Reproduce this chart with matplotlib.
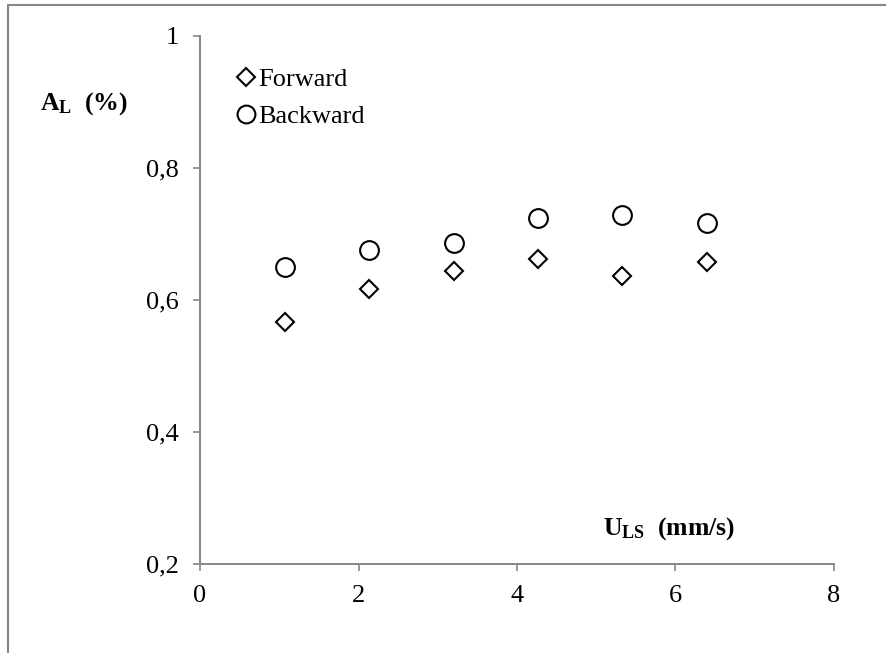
import matplotlib.pyplot as plt
from matplotlib.patches import Rectangle

plt.rcParams['font.family'] = ['Liberation Serif', 'DejaVu Serif']
plt.rcParams['mathtext.fontset'] = 'custom'
plt.rcParams['mathtext.rm'] = 'Liberation Serif'
plt.rcParams['mathtext.bf'] = 'Liberation Serif:bold'

# U_LS (mm/s) and A_L for the two directions
u_ls = [1.07, 2.13, 3.20, 4.27, 5.33, 6.40]
forward = [0.566, 0.617, 0.644, 0.662, 0.636, 0.657]
backward = [0.650, 0.676, 0.686, 0.724, 0.729, 0.716]

xticks = [0, 2, 4, 6, 8]
yticks = [0.2, 0.4, 0.6, 0.8, 1.0]
ytick_labels = ['0,2', '0,4', '0,6', '0,8', '1']

axis_grey = '#868686'

fig = plt.figure(figsize=(8.87, 6.53), dpi=100)
ax = fig.add_axes([0.2255, 0.1363, 0.7147, 0.8086])

ax.plot(u_ls, forward, linestyle='none', marker='D', markersize=9.5,
        markerfacecolor='white', markeredgecolor='black', markeredgewidth=1.5,
        label='Forward')
ax.plot(u_ls, backward, linestyle='none', marker='o', markersize=13.5,
        markerfacecolor='white', markeredgecolor='black', markeredgewidth=1.5,
        label='Backward')

ax.set_xlim(0, 8)
ax.set_ylim(0.2, 1.0)
ax.set_xticks(xticks)
ax.set_xticklabels([str(t) for t in xticks])
ax.set_yticks(yticks)
ax.set_yticklabels(ytick_labels)
ax.tick_params(direction='out', length=5, width=1.2, color=axis_grey,
               labelsize=19, pad=10)

for side in ['top', 'right']:
    ax.spines[side].set_visible(False)
for side in ['left', 'bottom']:
    ax.spines[side].set_color(axis_grey)
    ax.spines[side].set_linewidth(1.4)

leg = ax.legend(loc='upper left', bbox_to_anchor=(0.04, 0.96), frameon=False,
                fontsize=19, handlelength=0.8, handletextpad=0.05,
                labelspacing=0.5, markerscale=0.95, borderaxespad=0)

fig.text(0.045, 0.842, r'$\mathbf{A_{L}}$  (%)', fontsize=18.5, fontweight='bold',
         ha='left', va='center')
fig.text(0.680, 0.191, r'$\mathbf{U_{LS}}$  (mm/s)', fontsize=18.5, fontweight='bold',
         ha='left', va='center')

# outer chart border
fig.patches.append(Rectangle((8 / 887, -0.1), 1.2, 0.1 + (653 - 5) / 653,
                             transform=fig.transFigure, fill=False,
                             edgecolor=axis_grey, linewidth=1.5))

plt.savefig('out.png', dpi=100)
